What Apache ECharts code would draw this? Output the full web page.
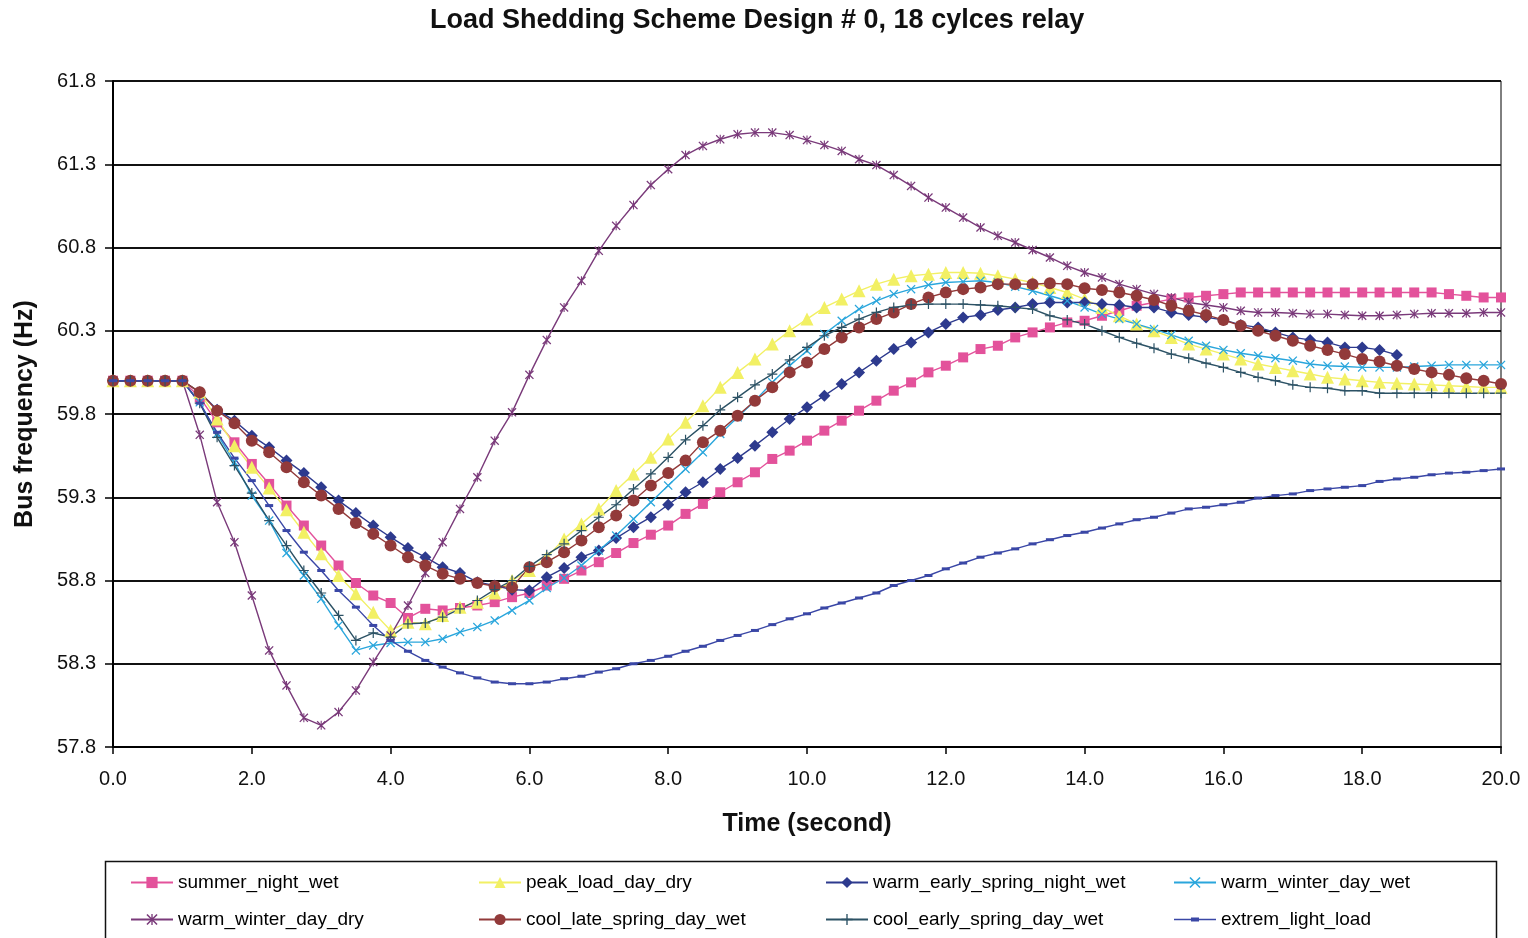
<!DOCTYPE html>
<html><head><meta charset="utf-8">
<script src="https://cdn.jsdelivr.net/npm/echarts@6/dist/echarts.min.js"></script>
<style>html,body{margin:0;padding:0;background:#fff}#c{width:1528px;height:938px}</style>
</head><body><div id="c"></div>
<script>
// ---------- data ----------
const timeSec = [0,0.25,0.5,0.75,1,1.25,1.5,1.75,2,2.25,2.5,2.75,3,3.25,3.5,3.75,4,4.25,4.5,4.75,
  5,5.25,5.5,5.75,6,6.25,6.5,6.75,7,7.25,7.5,7.75,8,8.25,8.5,8.75,9,9.25,9.5,9.75,
  10,10.25,10.5,10.75,11,11.25,11.5,11.75,12,12.25,12.5,12.75,13,13.25,13.5,13.75,14,14.25,14.5,14.75,
  15,15.25,15.5,15.75,16,16.25,16.5,16.75,17,17.25,17.5,17.75,18,18.25,18.5,18.75,19,19.25,19.5,19.75,20];

const summerNightWet = [60,60,60,60,60, 59.9,59.75,59.63,59.50,59.38, 59.25,59.13,59.01,58.89,58.785,
  58.71,58.665,58.575,58.63,58.62, 58.635,58.65,58.67,58.70,58.725, 58.77,58.81,58.86,58.91,58.965,
  59.025,59.075,59.13,59.20,59.26, 59.33,59.39,59.45,59.53,59.58, 59.64,59.70,59.76,59.82,59.88,
  59.94,59.99,60.05,60.09,60.14, 60.19,60.21,60.26,60.29,60.32, 60.35,60.36,60.39,60.42,60.45,
  60.47,60.49,60.50,60.51,60.52, 60.53,60.53,60.53,60.53,60.53, 60.53,60.53,60.53,60.53,60.53,
  60.53,60.53,60.52,60.51,60.50, 60.50];

const peakLoadDayDry = [60,60,60,60,60, 59.93,59.77,59.61,59.48,59.355, 59.225,59.09,58.96,58.83,58.72,
  58.61,58.50,58.55,58.54,58.59, 58.64,58.67,58.725,58.80,58.86, 58.94,59.05,59.14,59.23,59.34,
  59.44,59.54,59.65,59.75,59.85, 59.96,60.05,60.13,60.22,60.30, 60.37,60.44,60.49,60.54,60.58,
  60.61,60.63,60.64,60.65,60.65, 60.645,60.63,60.61,60.59,60.56, 60.53,60.49,60.44,60.39,60.34,
  60.30,60.26,60.22,60.19,60.16, 60.13,60.10,60.08,60.06,60.04, 60.02,60.01,60.0,59.99,59.985,
  59.98,59.975,59.97,59.965,59.96, 59.96];

const warmEarlySpringNightWet = [60,60,60,60,60, 59.93,59.825,59.76,59.67,59.60, 59.52,59.445,59.36,59.28,59.205,
  59.13,59.06,58.995,58.94,58.88, 58.845,58.79,58.77,58.745,58.74, 58.82,58.875,58.94,58.98,59.055,
  59.12,59.18,59.255,59.33,59.39, 59.47,59.535,59.61,59.69,59.77, 59.84,59.91,59.98,60.05,60.12,
  60.19,60.23,60.29,60.34,60.38, 60.395,60.425,60.44,60.46,60.47, 60.47,60.47,60.46,60.455,60.44,
  60.44,60.41,60.395,60.38,60.365, 60.335,60.32,60.29,60.26,60.245, 60.23,60.20,60.20,60.185,60.155];

const warmWinterDayWet = [60,60,60,60,60, 59.87,59.68,59.51,59.31,59.16, 58.965,58.83,58.69,58.53,58.38,
  58.41,58.425,58.43,58.43,58.45, 58.49,58.52,58.56,58.62,58.68, 58.755,58.815,58.89,58.98,59.07,
  59.17,59.27,59.37,59.47,59.57, 59.68,59.78,59.88,59.99,60.09, 60.18,60.28,60.36,60.43,60.48,
  60.52,60.55,60.575,60.59,60.595, 60.60,60.59,60.565,60.54,60.51, 60.48,60.44,60.40,60.37,60.34,
  60.31,60.275,60.24,60.21,60.185, 60.165,60.15,60.135,60.12,60.10, 60.09,60.085,60.08,60.08,60.08,
  60.085,60.09,60.095,60.095,60.095, 60.095];

const warmWinterDayDry = [60,60,60,60,60, 59.675,59.27,59.03,58.71,58.38, 58.17,57.975,57.93,58.01,58.14,
  58.31,58.47,58.65,58.845,59.03, 59.23,59.42,59.64,59.81,60.035, 60.245,60.44,60.60,60.78,60.93,
  61.055,61.175,61.27,61.355,61.41, 61.45,61.48,61.49,61.49,61.475, 61.445,61.415,61.38,61.33,61.295,
  61.235,61.17,61.10,61.04,60.98, 60.92,60.87,60.83,60.785,60.74, 60.69,60.65,60.62,60.58,60.55,
  60.52,60.50,60.47,60.455,60.44, 60.42,60.41,60.41,60.405,60.40, 60.40,60.395,60.39,60.39,60.395,
  60.40,60.405,60.405,60.405,60.41, 60.41];

const coolLateSpringDayWet = [60,60,60,60,60, 59.93,59.82,59.745,59.64,59.57, 59.48,59.39,59.31,59.23,59.145,
  59.08,59.01,58.94,58.89,58.84, 58.81,58.785,58.765,58.76,58.88, 58.91,58.97,59.04,59.12,59.19,
  59.28,59.37,59.445,59.52,59.63, 59.70,59.79,59.88,59.96,60.05, 60.11,60.19,60.26,60.32,60.37,
  60.41,60.46,60.50,60.53,60.55, 60.56,60.58,60.58,60.58,60.585, 60.58,60.555,60.545,60.53,60.51,
  60.485,60.45,60.42,60.395,60.365, 60.33,60.30,60.27,60.24,60.21, 60.185,60.16,60.13,60.115,60.09,
  60.07,60.05,60.035,60.015,60.0, 59.98];

const coolEarlySpringDayWet = [60,60,60,60,60, 59.865,59.66,59.49,59.325,59.16, 59.01,58.86,58.725,58.59,58.44,
  58.485,58.46,58.54,58.545,58.58, 58.63,58.68,58.745,58.80,58.885, 58.955,59.02,59.10,59.18,59.255,
  59.35,59.44,59.54,59.645,59.73, 59.825,59.90,59.975,60.04,60.125, 60.20,60.27,60.32,60.37,60.41,
  60.44,60.455,60.46,60.46,60.46, 60.455,60.45,60.44,60.43,60.39, 60.365,60.34,60.30,60.26,60.225,
  60.195,60.16,60.135,60.105,60.08, 60.05,60.02,60.0,59.975,59.96, 59.955,59.94,59.94,59.925,59.925,
  59.925,59.925,59.925,59.925,59.925, 59.925];

const extremLightLoad = [60,60,60,60,60, 59.865,59.69,59.535,59.40,59.25, 59.10,58.97,58.86,58.74,58.64,
  58.53,58.44,58.375,58.32,58.28, 58.245,58.215,58.19,58.18,58.18, 58.19,58.21,58.225,58.25,58.27,
  58.30,58.32,58.345,58.375,58.405, 58.44,58.47,58.50,58.535,58.57, 58.60,58.635,58.665,58.695,58.725,
  58.77,58.80,58.83,58.87,58.905, 58.94,58.965,58.99,59.02,59.045, 59.07,59.09,59.115,59.14,59.165,
  59.18,59.205,59.23,59.24,59.255, 59.27,59.295,59.31,59.32,59.34, 59.35,59.36,59.37,59.395,59.41,
  59.42,59.435,59.445,59.45,59.46, 59.47];

const yTicks = [57.8,58.3,58.8,59.3,59.8,60.3,60.8,61.3,61.8];
const xTicks = [0,2,4,6,8,10,12,14,16,18,20];

// ---------- styling ----------
const SYM_X = 'path://M0,1 L1,0 L5,4 L9,0 L10,1 L6,5 L10,9 L9,10 L5,6 L1,10 L0,9 L4,5 Z';
const SYM_STAR = 'path://M0,1 L1,0 L5,4 L9,0 L10,1 L6,5 L10,9 L9,10 L5,6 L1,10 L0,9 L4,5 Z M4.4,0 L5.6,0 L5.6,10 L4.4,10 Z';
const SYM_PLUS = 'path://M4.4,0 L5.6,0 L5.6,4.4 L10,4.4 L10,5.6 L5.6,5.6 L5.6,10 L4.4,10 L4.4,5.6 L0,5.6 L0,4.4 L4.4,4.4 Z';
const LEG_DASH = 'path://M0,6.3 L42,6.3 L42,7.7 L0,7.7 Z M17,5 L25,5 L25,9 L17,9 Z';

function mk(name, vals, color, symbol, size) {
  const data = [];
  vals.forEach((v, i) => { if (v != null) data.push([timeSec[i], v]); });
  return {
    name, type: 'line', data, symbol, symbolSize: size, showSymbol: true,
    lineStyle: { color, width: 1.4 },
    itemStyle: { color, borderWidth: 0 },
    emphasis: { disabled: true }, animation: false
  };
}

const FONT = '"Liberation Sans", Arial, sans-serif';
const chart = echarts.init(document.getElementById('c'), null, { renderer: 'canvas' });

const legendCommon = {
  orient: 'vertical', top: 868, itemWidth: 42, itemHeight: 14, itemGap: 18,
  textStyle: { fontFamily: FONT, fontSize: 19, color: '#000' }, selectedMode: false
};

chart.setOption({
  backgroundColor: '#fff',
  animation: false,
  title: {
    text: 'Load Shedding Scheme Design # 0, 18 cylces relay',
    left: 430, top: 7, padding: 0,
    textStyle: { fontFamily: FONT, fontSize: 27, fontWeight: 'bold', color: '#111' }
  },
  grid: { left: 113, right: 27, top: 81, bottom: 191, show: true, borderColor: '#000', borderWidth: 1, backgroundColor: 'transparent' },
  xAxis: {
    type: 'value', min: xTicks[0], max: xTicks[xTicks.length - 1], interval: xTicks[1] - xTicks[0],
    name: 'Time (second)', nameLocation: 'middle', nameGap: 65,
    nameTextStyle: { fontFamily: FONT, fontSize: 25, fontWeight: 'bold', color: '#111' },
    axisLine: { show: true, onZero: false, lineStyle: { color: '#000', width: 2 } },
    axisTick: { show: true, length: 7, lineStyle: { color: '#000', width: 1.5 } },
    axisLabel: { margin: 22, fontFamily: FONT, fontSize: 20, color: '#111', formatter: v => v.toFixed(1) },
    splitLine: { show: false }
  },
  yAxis: {
    type: 'value', min: yTicks[0], max: yTicks[yTicks.length - 1], interval: +(yTicks[1] - yTicks[0]).toFixed(2),
    name: 'Bus frequency (Hz)', nameLocation: 'middle', nameGap: 75, nameRotate: 90,
    nameTextStyle: { fontFamily: FONT, fontSize: 25, fontWeight: 'bold', color: '#111' },
    axisLine: { show: true, lineStyle: { color: '#000', width: 2 } },
    axisTick: { show: true, length: 8, lineStyle: { color: '#000', width: 1.5 } },
    axisLabel: { margin: 17, fontFamily: FONT, fontSize: 20, color: '#111', formatter: v => v.toFixed(1) },
    splitLine: { show: true, lineStyle: { color: '#111', width: 1.8 } }
  },
  legend: [
    Object.assign({ left: 125, data: ['summer_night_wet', 'warm_winter_day_dry'] }, legendCommon),
    Object.assign({ left: 473, data: ['peak_load_day_dry', 'cool_late_spring_day_wet'] }, legendCommon),
    Object.assign({ left: 820, data: ['warm_early_spring_night_wet', 'cool_early_spring_day_wet'] }, legendCommon),
    Object.assign({ left: 1168, data: ['warm_winter_day_wet', { name: 'extrem_light_load', icon: LEG_DASH }] }, legendCommon)
  ],
  graphic: [{
    type: 'rect', silent: true,
    shape: { x: 105.5, y: 861.5, width: 1391, height: 100 },
    style: { fill: 'none', stroke: '#111', lineWidth: 1.5 }
  }],
  series: [
    mk('summer_night_wet', summerNightWet, '#e3529b', 'rect', 10),
    mk('peak_load_day_dry', peakLoadDayDry, '#f2f064', 'triangle', 13),
    mk('warm_early_spring_night_wet', warmEarlySpringNightWet, '#2d3a8e', 'diamond', 12),
    mk('warm_winter_day_wet', warmWinterDayWet, '#2aa6dc', SYM_X, 9),
    mk('warm_winter_day_dry', warmWinterDayDry, '#7a3a7a', SYM_STAR, 9),
    mk('cool_late_spring_day_wet', coolLateSpringDayWet, '#923a3a', 'circle', 12),
    mk('cool_early_spring_day_wet', coolEarlySpringDayWet, '#2c5265', SYM_PLUS, 10),
    mk('extrem_light_load', extremLightLoad, '#3a47a6', 'rect', [8, 3])
  ]
});
</script>
</body></html>
